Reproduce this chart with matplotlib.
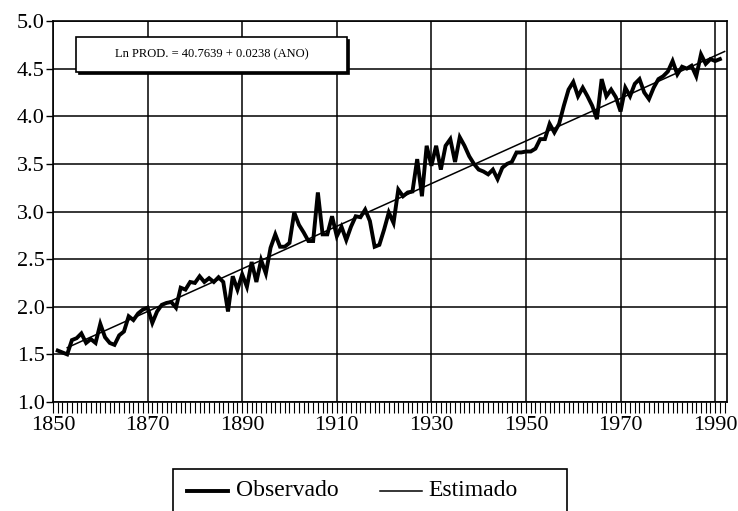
import matplotlib
matplotlib.use("Agg")
import matplotlib.pyplot as plt
from matplotlib.patches import Rectangle
from matplotlib.lines import Line2D

# ---- data ----
years = list(range(1851, 1992))
observado = [
    1.54, 1.52, 1.50, 1.65, 1.67, 1.72, 1.62, 1.66, 1.62, 1.82,   # 1851-1860
    1.68, 1.62, 1.60, 1.70, 1.74, 1.90, 1.86, 1.93, 1.97, 1.99,   # 1861-1870
    1.83, 1.95, 2.02, 2.04, 2.05, 1.99, 2.20, 2.18, 2.26, 2.25,   # 1871-1880
    2.32, 2.26, 2.30, 2.26, 2.31, 2.26, 1.95, 2.32, 2.18, 2.34,   # 1881-1890
    2.21, 2.47, 2.26, 2.49, 2.35, 2.62, 2.76, 2.63, 2.63, 2.67,   # 1891-1900
    2.99, 2.86, 2.78, 2.69, 2.69, 3.20, 2.76, 2.76, 2.95, 2.74,   # 1901-1910
    2.84, 2.70, 2.84, 2.95, 2.94, 3.02, 2.90, 2.63, 2.65, 2.81,   # 1911-1920
    2.99, 2.88, 3.23, 3.16, 3.20, 3.21, 3.55, 3.16, 3.69, 3.48,   # 1921-1930
    3.69, 3.44, 3.69, 3.76, 3.52, 3.78, 3.69, 3.58, 3.50, 3.44,   # 1931-1940
    3.42, 3.39, 3.44, 3.34, 3.46, 3.50, 3.52, 3.62, 3.62, 3.63,   # 1941-1950
    3.63, 3.66, 3.76, 3.76, 3.92, 3.83, 3.92, 4.11, 4.28, 4.36,   # 1951-1960
    4.21, 4.30, 4.21, 4.11, 3.97, 4.39, 4.21, 4.28, 4.20, 4.05,   # 1961-1970
    4.30, 4.21, 4.34, 4.39, 4.25, 4.18, 4.30, 4.39, 4.42, 4.47,   # 1971-1980
    4.58, 4.44, 4.52, 4.50, 4.53, 4.42, 4.65, 4.55, 4.60, 4.58,   # 1981-1990
    4.60,                                                         # 1991
]
est_years = [1853, 1992]
estimado = [1.57, 4.68]

x_ticks = [1850, 1870, 1890, 1910, 1930, 1950, 1970, 1990]
y_ticks = [1.0, 1.5, 2.0, 2.5, 3.0, 3.5, 4.0, 4.5, 5.0]
equation = "Ln PROD. = 40.7639 + 0.0238 (ANO)"
labels = ["Observado", "Estimado"]

# ---- figure ----
plt.rcParams['font.family'] = ['Liberation Serif', 'DejaVu Serif']
W, H = 738, 511
fig = plt.figure(figsize=(W/100, H/100), dpi=100)
ax = fig.add_axes([53/W, 1-402/H, 674/W, 381/H])

ax.plot(years, observado, color='black', lw=2.8, solid_joinstyle='miter', zorder=3)
ax.plot(est_years, estimado, color='black', lw=1.1, zorder=4)

ax.set_xlim(1850, 1992.5)
ax.set_ylim(1.0, 5.0)
ax.set_xticks(x_ticks)
ax.set_xticklabels([str(v) for v in x_ticks])
ax.set_yticks(y_ticks)
ax.set_yticklabels([f"{v:.1f}" for v in y_ticks])
ax.set_xticks(range(1851, 1993), minor=True)
ax.grid(True, which='major', color='black', lw=1.1)
ax.tick_params(axis='x', which='both', direction='out', length=8, width=0.8,
               labelsize=16, pad=2)
ax.tick_params(axis='y', which='major', direction='out', length=5, width=1,
               labelsize=16, pad=1)
for s in ax.spines.values():
    s.set_linewidth(1.2)

# equation box (with slight drop shadow)
ax.add_patch(Rectangle((0.037, 0.862), 0.402, 0.092, transform=ax.transAxes,
                       facecolor='black', edgecolor='black', lw=0.5, zorder=4.9))
ax.add_patch(Rectangle((0.034, 0.866), 0.402, 0.092, transform=ax.transAxes,
                       facecolor='white', edgecolor='black', lw=1.2, zorder=5.1))
ax.text(0.235, 0.912, equation, transform=ax.transAxes, ha='center', va='center',
        fontsize=9, zorder=6)

# legend (drawn manually to match the cropped box)
def fx(px):
    return px / W

def fy(py):
    return 1 - py / H

fig.add_artist(Rectangle((fx(173), fy(525)), fx(567) - fx(173), fy(469) - fy(525),
                         transform=fig.transFigure, facecolor='white',
                         edgecolor='black', lw=1.2))
fig.add_artist(Line2D([fx(187), fx(228)], [fy(491), fy(491)],
                      transform=fig.transFigure, color='black', lw=2.8))
fig.text(fx(236), fy(496), labels[0], fontsize=17, ha='left', va='baseline')
fig.add_artist(Line2D([fx(380), fx(422)], [fy(491), fy(491)],
                      transform=fig.transFigure, color='black', lw=1.1))
fig.text(fx(428), fy(496), labels[1], fontsize=17, ha='left', va='baseline')

fig.savefig("out.png", dpi=100)
